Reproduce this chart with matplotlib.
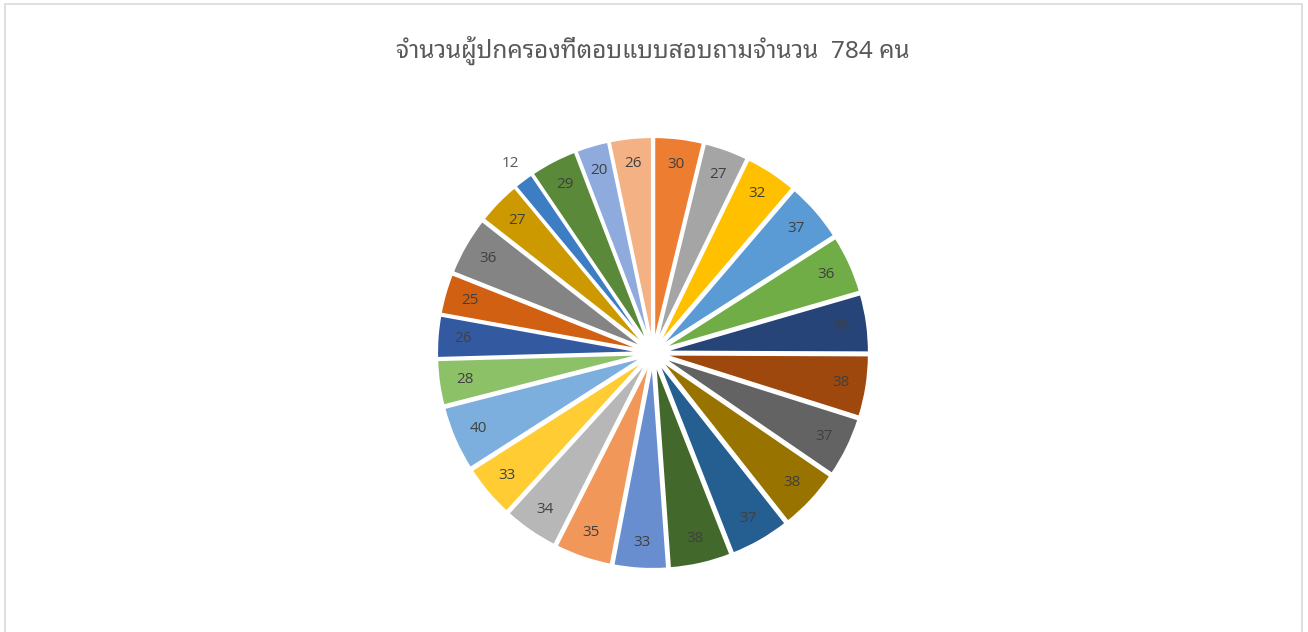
import matplotlib
matplotlib.use("Agg")
import matplotlib.pyplot as plt
from matplotlib.patches import Rectangle

title = "จำนวนผู้ปกครองที่ตอบแบบสอบถามจำนวน  784 คน"
values = [30, 27, 32, 37, 36, 36, 38, 37, 38, 37, 38, 33, 35, 34, 33,
          40, 28, 26, 25, 36, 27, 12, 29, 20, 26]
labels = [str(v) for v in values]
colors = ["#ED7D31", "#A5A5A5", "#FFC000", "#5B9BD5", "#70AD47",
          "#264478", "#9E480E", "#636363", "#997300", "#255E91", "#43682B",
          "#698ED0", "#F1975A", "#B7B7B7", "#FFCD33", "#7CAFDD", "#8CC168",
          "#335AA1", "#D26012", "#848484", "#CC9A00", "#3C7DC4", "#5A8A39",
          "#8FAADC", "#F4B183"]
outside_labels = ["12"]

W, H = 1308, 632
fig = plt.figure(figsize=(W / 100, H / 100), dpi=100)
fig.patch.set_facecolor("white")
ax = fig.add_axes([0, 0, 1, 1])
ax.set_xlim(0, W)
ax.set_ylim(0, H)
ax.set_aspect("equal")
ax.axis("off")

# chart border
ax.add_patch(Rectangle((5, -20), 1297, H - 4 + 20, fill=False,
                       edgecolor="#D9D9D9", linewidth=1.2))

cx, cy = 653, H - 353
radius = 206
wedges, texts = ax.pie(values, labels=labels, colors=colors, startangle=90,
                       counterclock=False, center=(cx, cy), radius=radius,
                       explode=[10] * len(values), labeldistance=0.875,
                       wedgeprops=dict(edgecolor="white", linewidth=1.5),
                       textprops=dict(color="#404040", fontsize=11,
                                      family="Open Sans",
                                      ha="center", va="center"))
for t in texts:
    t.set_ha("center")
    t.set_va("center")
    if t.get_text() in outside_labels:
        x, y = t.get_position()
        dx, dy = x - cx, y - cy
        f = 1.245
        t.set_position((cx + dx * f, cy + dy * f))
        t.set_color("#595959")
ax.set_xlim(0, W)
ax.set_ylim(0, H)

ax.text(653, H - 50, title, ha="center", va="center", fontsize=17.5,
        color="#595959", fontweight="light",
        family=["Noto Sans", "Noto Sans Thai Looped"])

fig.savefig("out.png", dpi=100)
